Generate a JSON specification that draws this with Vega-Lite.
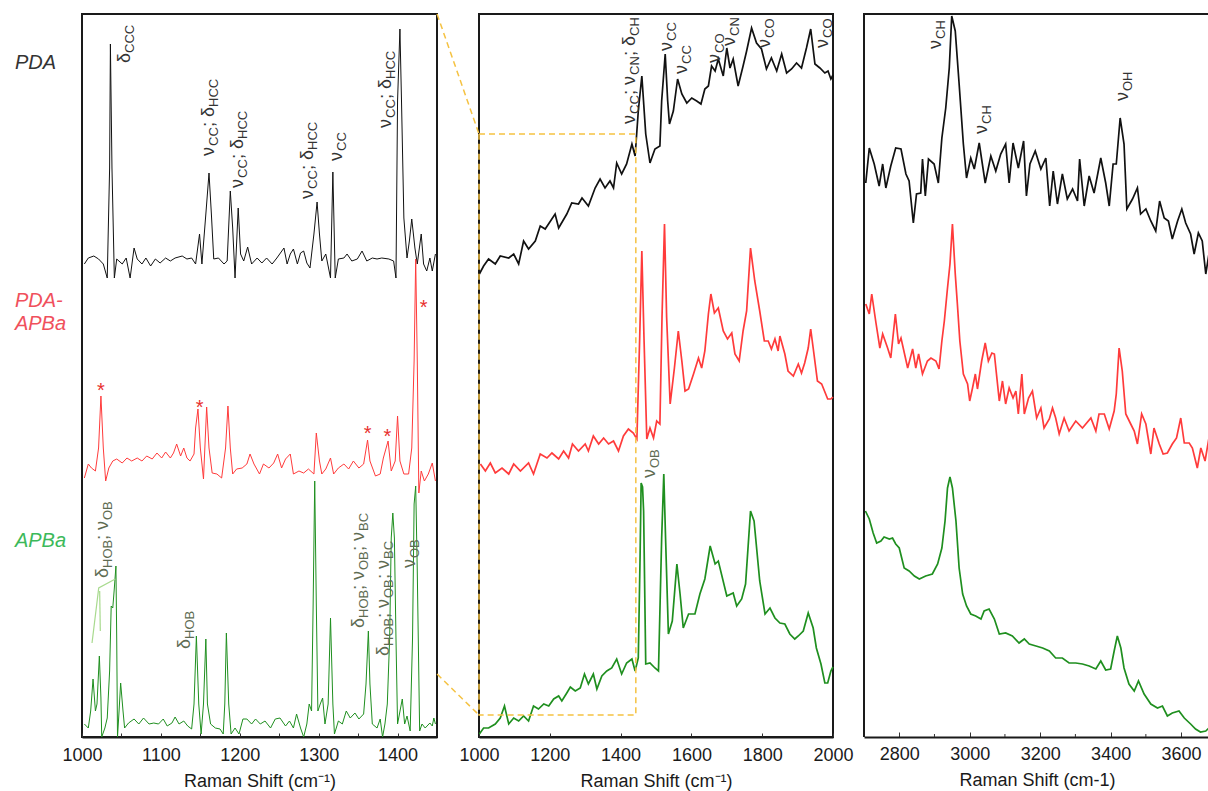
{
"$schema": "https://vega.github.io/schema/vega-lite/v6.json",
"padding": {"left": 13, "top": 10, "right": 0, "bottom": 0},
"autosize": {"type": "pad"},
"bounds": "flush",
"spacing": 42,
"config": {
  "view": {"stroke": "#1a1a1a", "strokeWidth": 2},
  "font": "Liberation Sans",
  "text": {"font": "Liberation Sans"},
  "axis": {"labelFont": "Liberation Sans", "labelFontSize": 18, "labelColor": "#1a1a1a", "titleFont": "Liberation Sans", "titleFontSize": 18, "titleFontWeight": "normal", "titleColor": "#1a1a1a", "grid": false, "domainColor": "#1a1a1a", "domainWidth": 2, "tickColor": "#333333", "tickWidth": 1, "tickSize": -4, "labelPadding": 13, "titlePadding": 8, "labelAngle": 0, "labelOverlap": false, "labelFlush": false}
},
"datasets": {
"left": [
{"s":"PDA","x":1003,"i":473},{"s":"PDA","x":1008,"i":479},{"s":"PDA","x":1015,"i":481},{"s":"PDA","x":1021,"i":478},{"s":"PDA","x":1027,"i":473},{"s":"PDA","x":1032,"i":459},{"s":"PDA","x":1035,"i":569},{"s":"PDA","x":1036,"i":693},{"s":"PDA","x":1038,"i":569},{"s":"PDA","x":1041,"i":459},{"s":"PDA","x":1044,"i":478},{"s":"PDA","x":1051,"i":473},{"s":"PDA","x":1056,"i":479},{"s":"PDA","x":1061,"i":459},{"s":"PDA","x":1066,"i":489},{"s":"PDA","x":1070,"i":478},{"s":"PDA","x":1076,"i":473},{"s":"PDA","x":1081,"i":479},{"s":"PDA","x":1087,"i":471},{"s":"PDA","x":1093,"i":478},{"s":"PDA","x":1099,"i":474},{"s":"PDA","x":1106,"i":479},{"s":"PDA","x":1112,"i":476},{"s":"PDA","x":1118,"i":479},{"s":"PDA","x":1127,"i":481},{"s":"PDA","x":1133,"i":478},{"s":"PDA","x":1139,"i":479},{"s":"PDA","x":1144,"i":473},{"s":"PDA","x":1149,"i":503},{"s":"PDA","x":1152,"i":473},{"s":"PDA","x":1157,"i":523},{"s":"PDA","x":1161,"i":564},{"s":"PDA","x":1164,"i":523},{"s":"PDA","x":1167,"i":478},{"s":"PDA","x":1173,"i":479},{"s":"PDA","x":1180,"i":473},{"s":"PDA","x":1184,"i":476},{"s":"PDA","x":1188,"i":546},{"s":"PDA","x":1191,"i":509},{"s":"PDA","x":1194,"i":459},{"s":"PDA","x":1198,"i":529},{"s":"PDA","x":1201,"i":483},{"s":"PDA","x":1205,"i":476},{"s":"PDA","x":1210,"i":490},{"s":"PDA","x":1215,"i":473},{"s":"PDA","x":1222,"i":479},{"s":"PDA","x":1228,"i":474},{"s":"PDA","x":1234,"i":479},{"s":"PDA","x":1241,"i":473},{"s":"PDA","x":1247,"i":479},{"s":"PDA","x":1256,"i":489},{"s":"PDA","x":1260,"i":473},{"s":"PDA","x":1264,"i":483},{"s":"PDA","x":1268,"i":488},{"s":"PDA","x":1273,"i":473},{"s":"PDA","x":1277,"i":484},{"s":"PDA","x":1281,"i":486},{"s":"PDA","x":1285,"i":474},{"s":"PDA","x":1289,"i":469},{"s":"PDA","x":1294,"i":503},{"s":"PDA","x":1298,"i":535},{"s":"PDA","x":1301,"i":503},{"s":"PDA","x":1304,"i":476},{"s":"PDA","x":1309,"i":483},{"s":"PDA","x":1315,"i":459},{"s":"PDA","x":1318,"i":565},{"s":"PDA","x":1321,"i":459},{"s":"PDA","x":1325,"i":478},{"s":"PDA","x":1332,"i":479},{"s":"PDA","x":1336,"i":483},{"s":"PDA","x":1342,"i":476},{"s":"PDA","x":1349,"i":478},{"s":"PDA","x":1355,"i":486},{"s":"PDA","x":1361,"i":476},{"s":"PDA","x":1368,"i":479},{"s":"PDA","x":1374,"i":478},{"s":"PDA","x":1380,"i":479},{"s":"PDA","x":1389,"i":478},{"s":"PDA","x":1395,"i":476},{"s":"PDA","x":1398,"i":459},{"s":"PDA","x":1400,"i":636},{"s":"PDA","x":1403,"i":708},{"s":"PDA","x":1405,"i":636},{"s":"PDA","x":1408,"i":519},{"s":"PDA","x":1412,"i":479},{"s":"PDA","x":1415,"i":496},{"s":"PDA","x":1418,"i":518},{"s":"PDA","x":1422,"i":489},{"s":"PDA","x":1425,"i":473},{"s":"PDA","x":1430,"i":503},{"s":"PDA","x":1433,"i":473},{"s":"PDA","x":1437,"i":466},{"s":"PDA","x":1441,"i":479},{"s":"PDA","x":1444,"i":466},{"s":"PDA","x":1448,"i":483},
{"s":"PDA-APBa","x":1003,"i":259},{"s":"PDA-APBa","x":1008,"i":273},{"s":"PDA-APBa","x":1012,"i":269},{"s":"PDA-APBa","x":1017,"i":266},{"s":"PDA-APBa","x":1021,"i":289},{"s":"PDA-APBa","x":1024,"i":341},{"s":"PDA-APBa","x":1027,"i":289},{"s":"PDA-APBa","x":1030,"i":256},{"s":"PDA-APBa","x":1034,"i":269},{"s":"PDA-APBa","x":1039,"i":276},{"s":"PDA-APBa","x":1044,"i":278},{"s":"PDA-APBa","x":1051,"i":274},{"s":"PDA-APBa","x":1057,"i":279},{"s":"PDA-APBa","x":1063,"i":276},{"s":"PDA-APBa","x":1070,"i":279},{"s":"PDA-APBa","x":1076,"i":276},{"s":"PDA-APBa","x":1082,"i":281},{"s":"PDA-APBa","x":1089,"i":278},{"s":"PDA-APBa","x":1095,"i":284},{"s":"PDA-APBa","x":1101,"i":279},{"s":"PDA-APBa","x":1106,"i":285},{"s":"PDA-APBa","x":1112,"i":279},{"s":"PDA-APBa","x":1116,"i":284},{"s":"PDA-APBa","x":1120,"i":293},{"s":"PDA-APBa","x":1125,"i":281},{"s":"PDA-APBa","x":1129,"i":289},{"s":"PDA-APBa","x":1133,"i":279},{"s":"PDA-APBa","x":1137,"i":276},{"s":"PDA-APBa","x":1142,"i":283},{"s":"PDA-APBa","x":1144,"i":309},{"s":"PDA-APBa","x":1147,"i":328},{"s":"PDA-APBa","x":1150,"i":289},{"s":"PDA-APBa","x":1154,"i":258},{"s":"PDA-APBa","x":1158,"i":330},{"s":"PDA-APBa","x":1161,"i":289},{"s":"PDA-APBa","x":1165,"i":264},{"s":"PDA-APBa","x":1171,"i":263},{"s":"PDA-APBa","x":1177,"i":259},{"s":"PDA-APBa","x":1182,"i":289},{"s":"PDA-APBa","x":1185,"i":331},{"s":"PDA-APBa","x":1188,"i":289},{"s":"PDA-APBa","x":1191,"i":263},{"s":"PDA-APBa","x":1196,"i":268},{"s":"PDA-APBa","x":1203,"i":269},{"s":"PDA-APBa","x":1209,"i":273},{"s":"PDA-APBa","x":1213,"i":283},{"s":"PDA-APBa","x":1218,"i":273},{"s":"PDA-APBa","x":1225,"i":263},{"s":"PDA-APBa","x":1230,"i":273},{"s":"PDA-APBa","x":1237,"i":269},{"s":"PDA-APBa","x":1243,"i":274},{"s":"PDA-APBa","x":1248,"i":283},{"s":"PDA-APBa","x":1253,"i":269},{"s":"PDA-APBa","x":1258,"i":278},{"s":"PDA-APBa","x":1264,"i":283},{"s":"PDA-APBa","x":1268,"i":263},{"s":"PDA-APBa","x":1275,"i":266},{"s":"PDA-APBa","x":1281,"i":264},{"s":"PDA-APBa","x":1287,"i":268},{"s":"PDA-APBa","x":1294,"i":263},{"s":"PDA-APBa","x":1297,"i":304},{"s":"PDA-APBa","x":1301,"i":276},{"s":"PDA-APBa","x":1304,"i":263},{"s":"PDA-APBa","x":1309,"i":268},{"s":"PDA-APBa","x":1315,"i":279},{"s":"PDA-APBa","x":1319,"i":263},{"s":"PDA-APBa","x":1325,"i":269},{"s":"PDA-APBa","x":1332,"i":273},{"s":"PDA-APBa","x":1338,"i":268},{"s":"PDA-APBa","x":1344,"i":276},{"s":"PDA-APBa","x":1351,"i":269},{"s":"PDA-APBa","x":1357,"i":273},{"s":"PDA-APBa","x":1362,"i":297},{"s":"PDA-APBa","x":1365,"i":276},{"s":"PDA-APBa","x":1372,"i":261},{"s":"PDA-APBa","x":1378,"i":263},{"s":"PDA-APBa","x":1382,"i":279},{"s":"PDA-APBa","x":1388,"i":296},{"s":"PDA-APBa","x":1392,"i":266},{"s":"PDA-APBa","x":1397,"i":276},{"s":"PDA-APBa","x":1400,"i":321},{"s":"PDA-APBa","x":1403,"i":276},{"s":"PDA-APBa","x":1408,"i":263},{"s":"PDA-APBa","x":1414,"i":263},{"s":"PDA-APBa","x":1418,"i":289},{"s":"PDA-APBa","x":1421,"i":376},{"s":"PDA-APBa","x":1423,"i":478},{"s":"PDA-APBa","x":1425,"i":376},{"s":"PDA-APBa","x":1427,"i":244},{"s":"PDA-APBa","x":1430,"i":266},{"s":"PDA-APBa","x":1434,"i":256},{"s":"PDA-APBa","x":1439,"i":263},{"s":"PDA-APBa","x":1444,"i":274},{"s":"PDA-APBa","x":1448,"i":256},
{"s":"APBa","x":1003,"i":13},{"s":"APBa","x":1008,"i":9},{"s":"APBa","x":1011,"i":26},{"s":"APBa","x":1014,"i":58},{"s":"APBa","x":1017,"i":26},{"s":"APBa","x":1019,"i":33},{"s":"APBa","x":1022,"i":81},{"s":"APBa","x":1024,"i":39},{"s":"APBa","x":1025,"i":0},{"s":"APBa","x":1029,"i":9},{"s":"APBa","x":1032,"i":19},{"s":"APBa","x":1035,"i":66},{"s":"APBa","x":1037,"i":131},{"s":"APBa","x":1039,"i":129},{"s":"APBa","x":1041,"i":149},{"s":"APBa","x":1043,"i":171},{"s":"APBa","x":1044,"i":99},{"s":"APBa","x":1045,"i":0},{"s":"APBa","x":1047,"i":26},{"s":"APBa","x":1049,"i":54},{"s":"APBa","x":1052,"i":26},{"s":"APBa","x":1054,"i":9},{"s":"APBa","x":1059,"i":14},{"s":"APBa","x":1066,"i":18},{"s":"APBa","x":1072,"i":13},{"s":"APBa","x":1078,"i":19},{"s":"APBa","x":1085,"i":13},{"s":"APBa","x":1091,"i":14},{"s":"APBa","x":1097,"i":13},{"s":"APBa","x":1103,"i":18},{"s":"APBa","x":1108,"i":11},{"s":"APBa","x":1114,"i":14},{"s":"APBa","x":1118,"i":20},{"s":"APBa","x":1123,"i":13},{"s":"APBa","x":1129,"i":16},{"s":"APBa","x":1134,"i":11},{"s":"APBa","x":1139,"i":8},{"s":"APBa","x":1142,"i":33},{"s":"APBa","x":1145,"i":101},{"s":"APBa","x":1148,"i":33},{"s":"APBa","x":1151,"i":3},{"s":"APBa","x":1154,"i":33},{"s":"APBa","x":1157,"i":98},{"s":"APBa","x":1159,"i":33},{"s":"APBa","x":1163,"i":13},{"s":"APBa","x":1169,"i":9},{"s":"APBa","x":1175,"i":8},{"s":"APBa","x":1179,"i":3},{"s":"APBa","x":1181,"i":33},{"s":"APBa","x":1183,"i":104},{"s":"APBa","x":1186,"i":33},{"s":"APBa","x":1189,"i":3},{"s":"APBa","x":1194,"i":9},{"s":"APBa","x":1199,"i":3},{"s":"APBa","x":1204,"i":18},{"s":"APBa","x":1209,"i":18},{"s":"APBa","x":1215,"i":13},{"s":"APBa","x":1220,"i":18},{"s":"APBa","x":1226,"i":13},{"s":"APBa","x":1232,"i":16},{"s":"APBa","x":1239,"i":9},{"s":"APBa","x":1245,"i":18},{"s":"APBa","x":1251,"i":19},{"s":"APBa","x":1258,"i":11},{"s":"APBa","x":1263,"i":16},{"s":"APBa","x":1268,"i":9},{"s":"APBa","x":1272,"i":23},{"s":"APBa","x":1277,"i":9},{"s":"APBa","x":1281,"i":0},{"s":"APBa","x":1285,"i":13},{"s":"APBa","x":1288,"i":33},{"s":"APBa","x":1291,"i":26},{"s":"APBa","x":1293,"i":133},{"s":"APBa","x":1295,"i":256},{"s":"APBa","x":1297,"i":133},{"s":"APBa","x":1299,"i":26},{"s":"APBa","x":1302,"i":33},{"s":"APBa","x":1305,"i":39},{"s":"APBa","x":1308,"i":13},{"s":"APBa","x":1312,"i":33},{"s":"APBa","x":1315,"i":119},{"s":"APBa","x":1318,"i":33},{"s":"APBa","x":1320,"i":3},{"s":"APBa","x":1325,"i":16},{"s":"APBa","x":1330,"i":13},{"s":"APBa","x":1335,"i":26},{"s":"APBa","x":1340,"i":19},{"s":"APBa","x":1346,"i":24},{"s":"APBa","x":1351,"i":18},{"s":"APBa","x":1357,"i":23},{"s":"APBa","x":1360,"i":53},{"s":"APBa","x":1363,"i":106},{"s":"APBa","x":1365,"i":53},{"s":"APBa","x":1368,"i":13},{"s":"APBa","x":1374,"i":9},{"s":"APBa","x":1378,"i":18},{"s":"APBa","x":1381,"i":0},{"s":"APBa","x":1384,"i":13},{"s":"APBa","x":1387,"i":33},{"s":"APBa","x":1390,"i":99},{"s":"APBa","x":1392,"i":199},{"s":"APBa","x":1394,"i":224},{"s":"APBa","x":1396,"i":199},{"s":"APBa","x":1398,"i":99},{"s":"APBa","x":1400,"i":13},{"s":"APBa","x":1406,"i":38},{"s":"APBa","x":1409,"i":13},{"s":"APBa","x":1412,"i":21},{"s":"APBa","x":1416,"i":6},{"s":"APBa","x":1419,"i":99},{"s":"APBa","x":1421,"i":233},{"s":"APBa","x":1423,"i":251},{"s":"APBa","x":1425,"i":166},{"s":"APBa","x":1428,"i":6},{"s":"APBa","x":1431,"i":13},{"s":"APBa","x":1435,"i":9},{"s":"APBa","x":1441,"i":14},{"s":"APBa","x":1444,"i":11},{"s":"APBa","x":1446,"i":19},{"s":"APBa","x":1448,"i":13}
],
"mid": [
{"s":"PDA","x":1001,"i":463},{"s":"PDA","x":1013,"i":471},{"s":"PDA","x":1027,"i":478},{"s":"PDA","x":1046,"i":473},{"s":"PDA","x":1060,"i":481},{"s":"PDA","x":1084,"i":479},{"s":"PDA","x":1098,"i":483},{"s":"PDA","x":1112,"i":473},{"s":"PDA","x":1126,"i":496},{"s":"PDA","x":1140,"i":488},{"s":"PDA","x":1159,"i":496},{"s":"PDA","x":1173,"i":511},{"s":"PDA","x":1187,"i":508},{"s":"PDA","x":1215,"i":523},{"s":"PDA","x":1225,"i":509},{"s":"PDA","x":1248,"i":523},{"s":"PDA","x":1262,"i":534},{"s":"PDA","x":1281,"i":533},{"s":"PDA","x":1291,"i":539},{"s":"PDA","x":1309,"i":531},{"s":"PDA","x":1328,"i":549},{"s":"PDA","x":1342,"i":558},{"s":"PDA","x":1356,"i":549},{"s":"PDA","x":1370,"i":556},{"s":"PDA","x":1380,"i":549},{"s":"PDA","x":1389,"i":574},{"s":"PDA","x":1403,"i":563},{"s":"PDA","x":1417,"i":573},{"s":"PDA","x":1432,"i":593},{"s":"PDA","x":1441,"i":581},{"s":"PDA","x":1450,"i":626},{"s":"PDA","x":1460,"i":661},{"s":"PDA","x":1471,"i":603},{"s":"PDA","x":1483,"i":574},{"s":"PDA","x":1497,"i":588},{"s":"PDA","x":1511,"i":591},{"s":"PDA","x":1516,"i":636},{"s":"PDA","x":1526,"i":683},{"s":"PDA","x":1533,"i":636},{"s":"PDA","x":1538,"i":613},{"s":"PDA","x":1549,"i":626},{"s":"PDA","x":1561,"i":658},{"s":"PDA","x":1573,"i":643},{"s":"PDA","x":1587,"i":634},{"s":"PDA","x":1601,"i":639},{"s":"PDA","x":1615,"i":636},{"s":"PDA","x":1627,"i":633},{"s":"PDA","x":1638,"i":648},{"s":"PDA","x":1648,"i":651},{"s":"PDA","x":1657,"i":671},{"s":"PDA","x":1667,"i":666},{"s":"PDA","x":1676,"i":678},{"s":"PDA","x":1690,"i":661},{"s":"PDA","x":1700,"i":689},{"s":"PDA","x":1709,"i":669},{"s":"PDA","x":1718,"i":678},{"s":"PDA","x":1732,"i":651},{"s":"PDA","x":1746,"i":671},{"s":"PDA","x":1756,"i":686},{"s":"PDA","x":1770,"i":709},{"s":"PDA","x":1784,"i":694},{"s":"PDA","x":1798,"i":688},{"s":"PDA","x":1812,"i":668},{"s":"PDA","x":1826,"i":679},{"s":"PDA","x":1841,"i":666},{"s":"PDA","x":1855,"i":683},{"s":"PDA","x":1869,"i":664},{"s":"PDA","x":1883,"i":668},{"s":"PDA","x":1897,"i":674},{"s":"PDA","x":1911,"i":669},{"s":"PDA","x":1925,"i":689},{"s":"PDA","x":1937,"i":708},{"s":"PDA","x":1949,"i":673},{"s":"PDA","x":1963,"i":669},{"s":"PDA","x":1977,"i":664},{"s":"PDA","x":1986,"i":666},{"s":"PDA","x":1994,"i":658},{"s":"PDA","x":2000,"i":662},
{"s":"PDA-APBa","x":1004,"i":273},{"s":"PDA-APBa","x":1018,"i":266},{"s":"PDA-APBa","x":1032,"i":274},{"s":"PDA-APBa","x":1046,"i":264},{"s":"PDA-APBa","x":1065,"i":269},{"s":"PDA-APBa","x":1084,"i":263},{"s":"PDA-APBa","x":1098,"i":273},{"s":"PDA-APBa","x":1117,"i":266},{"s":"PDA-APBa","x":1140,"i":274},{"s":"PDA-APBa","x":1154,"i":263},{"s":"PDA-APBa","x":1173,"i":283},{"s":"PDA-APBa","x":1192,"i":279},{"s":"PDA-APBa","x":1206,"i":284},{"s":"PDA-APBa","x":1225,"i":278},{"s":"PDA-APBa","x":1239,"i":286},{"s":"PDA-APBa","x":1253,"i":279},{"s":"PDA-APBa","x":1264,"i":293},{"s":"PDA-APBa","x":1281,"i":286},{"s":"PDA-APBa","x":1300,"i":293},{"s":"PDA-APBa","x":1309,"i":286},{"s":"PDA-APBa","x":1323,"i":301},{"s":"PDA-APBa","x":1338,"i":293},{"s":"PDA-APBa","x":1352,"i":299},{"s":"PDA-APBa","x":1366,"i":293},{"s":"PDA-APBa","x":1380,"i":296},{"s":"PDA-APBa","x":1394,"i":286},{"s":"PDA-APBa","x":1408,"i":301},{"s":"PDA-APBa","x":1422,"i":308},{"s":"PDA-APBa","x":1436,"i":304},{"s":"PDA-APBa","x":1446,"i":298},{"s":"PDA-APBa","x":1454,"i":400},{"s":"PDA-APBa","x":1460,"i":486},{"s":"PDA-APBa","x":1466,"i":400},{"s":"PDA-APBa","x":1474,"i":298},{"s":"PDA-APBa","x":1483,"i":309},{"s":"PDA-APBa","x":1493,"i":299},{"s":"PDA-APBa","x":1502,"i":316},{"s":"PDA-APBa","x":1511,"i":313},{"s":"PDA-APBa","x":1517,"i":420},{"s":"PDA-APBa","x":1524,"i":513},{"s":"PDA-APBa","x":1530,"i":420},{"s":"PDA-APBa","x":1540,"i":333},{"s":"PDA-APBa","x":1552,"i":369},{"s":"PDA-APBa","x":1563,"i":406},{"s":"PDA-APBa","x":1573,"i":376},{"s":"PDA-APBa","x":1582,"i":346},{"s":"PDA-APBa","x":1592,"i":348},{"s":"PDA-APBa","x":1606,"i":363},{"s":"PDA-APBa","x":1620,"i":379},{"s":"PDA-APBa","x":1629,"i":369},{"s":"PDA-APBa","x":1638,"i":386},{"s":"PDA-APBa","x":1648,"i":423},{"s":"PDA-APBa","x":1655,"i":443},{"s":"PDA-APBa","x":1665,"i":424},{"s":"PDA-APBa","x":1676,"i":429},{"s":"PDA-APBa","x":1690,"i":406},{"s":"PDA-APBa","x":1702,"i":398},{"s":"PDA-APBa","x":1714,"i":404},{"s":"PDA-APBa","x":1723,"i":383},{"s":"PDA-APBa","x":1735,"i":376},{"s":"PDA-APBa","x":1746,"i":406},{"s":"PDA-APBa","x":1756,"i":426},{"s":"PDA-APBa","x":1767,"i":489},{"s":"PDA-APBa","x":1779,"i":456},{"s":"PDA-APBa","x":1793,"i":426},{"s":"PDA-APBa","x":1806,"i":396},{"s":"PDA-APBa","x":1817,"i":396},{"s":"PDA-APBa","x":1826,"i":388},{"s":"PDA-APBa","x":1836,"i":398},{"s":"PDA-APBa","x":1845,"i":386},{"s":"PDA-APBa","x":1850,"i":401},{"s":"PDA-APBa","x":1864,"i":383},{"s":"PDA-APBa","x":1873,"i":366},{"s":"PDA-APBa","x":1888,"i":361},{"s":"PDA-APBa","x":1902,"i":373},{"s":"PDA-APBa","x":1911,"i":364},{"s":"PDA-APBa","x":1920,"i":374},{"s":"PDA-APBa","x":1930,"i":389},{"s":"PDA-APBa","x":1937,"i":408},{"s":"PDA-APBa","x":1944,"i":389},{"s":"PDA-APBa","x":1956,"i":356},{"s":"PDA-APBa","x":1968,"i":353},{"s":"PDA-APBa","x":1985,"i":338},{"s":"PDA-APBa","x":1994,"i":338},{"s":"PDA-APBa","x":2000,"i":340},
{"s":"APBa","x":1001,"i":3},{"s":"APBa","x":1013,"i":9},{"s":"APBa","x":1027,"i":9},{"s":"APBa","x":1046,"i":13},{"s":"APBa","x":1060,"i":19},{"s":"APBa","x":1072,"i":31},{"s":"APBa","x":1084,"i":13},{"s":"APBa","x":1098,"i":19},{"s":"APBa","x":1112,"i":16},{"s":"APBa","x":1126,"i":21},{"s":"APBa","x":1140,"i":16},{"s":"APBa","x":1154,"i":31},{"s":"APBa","x":1168,"i":28},{"s":"APBa","x":1183,"i":33},{"s":"APBa","x":1197,"i":31},{"s":"APBa","x":1211,"i":38},{"s":"APBa","x":1225,"i":41},{"s":"APBa","x":1234,"i":36},{"s":"APBa","x":1248,"i":44},{"s":"APBa","x":1258,"i":50},{"s":"APBa","x":1272,"i":46},{"s":"APBa","x":1286,"i":49},{"s":"APBa","x":1298,"i":63},{"s":"APBa","x":1309,"i":53},{"s":"APBa","x":1323,"i":63},{"s":"APBa","x":1333,"i":48},{"s":"APBa","x":1347,"i":61},{"s":"APBa","x":1361,"i":66},{"s":"APBa","x":1375,"i":69},{"s":"APBa","x":1389,"i":78},{"s":"APBa","x":1403,"i":63},{"s":"APBa","x":1417,"i":74},{"s":"APBa","x":1432,"i":78},{"s":"APBa","x":1441,"i":66},{"s":"APBa","x":1450,"i":79},{"s":"APBa","x":1455,"i":180},{"s":"APBa","x":1458,"i":254},{"s":"APBa","x":1462,"i":250},{"s":"APBa","x":1465,"i":226},{"s":"APBa","x":1471,"i":73},{"s":"APBa","x":1483,"i":74},{"s":"APBa","x":1497,"i":69},{"s":"APBa","x":1507,"i":66},{"s":"APBa","x":1516,"i":199},{"s":"APBa","x":1522,"i":263},{"s":"APBa","x":1527,"i":199},{"s":"APBa","x":1535,"i":103},{"s":"APBa","x":1546,"i":116},{"s":"APBa","x":1559,"i":173},{"s":"APBa","x":1568,"i":143},{"s":"APBa","x":1577,"i":109},{"s":"APBa","x":1592,"i":123},{"s":"APBa","x":1610,"i":123},{"s":"APBa","x":1624,"i":143},{"s":"APBa","x":1638,"i":158},{"s":"APBa","x":1653,"i":191},{"s":"APBa","x":1667,"i":173},{"s":"APBa","x":1676,"i":176},{"s":"APBa","x":1700,"i":141},{"s":"APBa","x":1718,"i":144},{"s":"APBa","x":1728,"i":131},{"s":"APBa","x":1742,"i":138},{"s":"APBa","x":1753,"i":153},{"s":"APBa","x":1767,"i":226},{"s":"APBa","x":1777,"i":216},{"s":"APBa","x":1793,"i":156},{"s":"APBa","x":1808,"i":123},{"s":"APBa","x":1822,"i":129},{"s":"APBa","x":1836,"i":119},{"s":"APBa","x":1850,"i":114},{"s":"APBa","x":1864,"i":113},{"s":"APBa","x":1878,"i":103},{"s":"APBa","x":1892,"i":98},{"s":"APBa","x":1902,"i":101},{"s":"APBa","x":1916,"i":106},{"s":"APBa","x":1930,"i":124},{"s":"APBa","x":1944,"i":109},{"s":"APBa","x":1953,"i":89},{"s":"APBa","x":1966,"i":73},{"s":"APBa","x":1977,"i":54},{"s":"APBa","x":1985,"i":54},{"s":"APBa","x":1994,"i":66},{"s":"APBa","x":2000,"i":70}
],
"right": [
{"s":"PDA","x":2705,"i":554},{"s":"PDA","x":2715,"i":589},{"s":"PDA","x":2729,"i":573},{"s":"PDA","x":2743,"i":551},{"s":"PDA","x":2753,"i":573},{"s":"PDA","x":2762,"i":549},{"s":"PDA","x":2776,"i":571},{"s":"PDA","x":2790,"i":589},{"s":"PDA","x":2805,"i":588},{"s":"PDA","x":2819,"i":563},{"s":"PDA","x":2828,"i":556},{"s":"PDA","x":2840,"i":514},{"s":"PDA","x":2849,"i":543},{"s":"PDA","x":2861,"i":544},{"s":"PDA","x":2866,"i":578},{"s":"PDA","x":2874,"i":541},{"s":"PDA","x":2883,"i":578},{"s":"PDA","x":2899,"i":573},{"s":"PDA","x":2911,"i":554},{"s":"PDA","x":2921,"i":599},{"s":"PDA","x":2932,"i":629},{"s":"PDA","x":2942,"i":669},{"s":"PDA","x":2949,"i":721},{"s":"PDA","x":2959,"i":706},{"s":"PDA","x":2970,"i":653},{"s":"PDA","x":2982,"i":593},{"s":"PDA","x":2991,"i":559},{"s":"PDA","x":3003,"i":579},{"s":"PDA","x":3013,"i":568},{"s":"PDA","x":3027,"i":594},{"s":"PDA","x":3044,"i":554},{"s":"PDA","x":3060,"i":581},{"s":"PDA","x":3074,"i":566},{"s":"PDA","x":3088,"i":583},{"s":"PDA","x":3102,"i":593},{"s":"PDA","x":3112,"i":554},{"s":"PDA","x":3123,"i":594},{"s":"PDA","x":3138,"i":569},{"s":"PDA","x":3153,"i":596},{"s":"PDA","x":3161,"i":541},{"s":"PDA","x":3171,"i":573},{"s":"PDA","x":3186,"i":586},{"s":"PDA","x":3202,"i":568},{"s":"PDA","x":3216,"i":579},{"s":"PDA","x":3227,"i":531},{"s":"PDA","x":3237,"i":566},{"s":"PDA","x":3249,"i":533},{"s":"PDA","x":3263,"i":563},{"s":"PDA","x":3277,"i":538},{"s":"PDA","x":3292,"i":548},{"s":"PDA","x":3306,"i":536},{"s":"PDA","x":3312,"i":578},{"s":"PDA","x":3325,"i":531},{"s":"PDA","x":3339,"i":561},{"s":"PDA","x":3353,"i":544},{"s":"PDA","x":3372,"i":579},{"s":"PDA","x":3386,"i":554},{"s":"PDA","x":3396,"i":531},{"s":"PDA","x":3407,"i":573},{"s":"PDA","x":3416,"i":573},{"s":"PDA","x":3427,"i":619},{"s":"PDA","x":3438,"i":593},{"s":"PDA","x":3446,"i":528},{"s":"PDA","x":3462,"i":538},{"s":"PDA","x":3476,"i":549},{"s":"PDA","x":3485,"i":523},{"s":"PDA","x":3500,"i":528},{"s":"PDA","x":3514,"i":516},{"s":"PDA","x":3528,"i":506},{"s":"PDA","x":3539,"i":536},{"s":"PDA","x":3552,"i":519},{"s":"PDA","x":3564,"i":516},{"s":"PDA","x":3575,"i":498},{"s":"PDA","x":3590,"i":516},{"s":"PDA","x":3602,"i":528},{"s":"PDA","x":3613,"i":514},{"s":"PDA","x":3627,"i":503},{"s":"PDA","x":3637,"i":483},{"s":"PDA","x":3649,"i":504},{"s":"PDA","x":3660,"i":496},{"s":"PDA","x":3670,"i":463},{"s":"PDA","x":3679,"i":483},
{"s":"PDA-APBa","x":2705,"i":433},{"s":"PDA-APBa","x":2715,"i":423},{"s":"PDA-APBa","x":2722,"i":443},{"s":"PDA-APBa","x":2734,"i":414},{"s":"PDA-APBa","x":2745,"i":389},{"s":"PDA-APBa","x":2753,"i":403},{"s":"PDA-APBa","x":2767,"i":389},{"s":"PDA-APBa","x":2776,"i":379},{"s":"PDA-APBa","x":2789,"i":423},{"s":"PDA-APBa","x":2798,"i":393},{"s":"PDA-APBa","x":2805,"i":399},{"s":"PDA-APBa","x":2824,"i":369},{"s":"PDA-APBa","x":2838,"i":388},{"s":"PDA-APBa","x":2847,"i":369},{"s":"PDA-APBa","x":2855,"i":383},{"s":"PDA-APBa","x":2866,"i":363},{"s":"PDA-APBa","x":2880,"i":376},{"s":"PDA-APBa","x":2890,"i":379},{"s":"PDA-APBa","x":2904,"i":376},{"s":"PDA-APBa","x":2913,"i":368},{"s":"PDA-APBa","x":2921,"i":396},{"s":"PDA-APBa","x":2928,"i":416},{"s":"PDA-APBa","x":2937,"i":449},{"s":"PDA-APBa","x":2944,"i":473},{"s":"PDA-APBa","x":2951,"i":513},{"s":"PDA-APBa","x":2959,"i":463},{"s":"PDA-APBa","x":2965,"i":433},{"s":"PDA-APBa","x":2972,"i":396},{"s":"PDA-APBa","x":2982,"i":363},{"s":"PDA-APBa","x":2994,"i":353},{"s":"PDA-APBa","x":3000,"i":336},{"s":"PDA-APBa","x":3008,"i":349},{"s":"PDA-APBa","x":3016,"i":363},{"s":"PDA-APBa","x":3022,"i":348},{"s":"PDA-APBa","x":3034,"i":376},{"s":"PDA-APBa","x":3044,"i":394},{"s":"PDA-APBa","x":3053,"i":376},{"s":"PDA-APBa","x":3063,"i":384},{"s":"PDA-APBa","x":3070,"i":383},{"s":"PDA-APBa","x":3084,"i":336},{"s":"PDA-APBa","x":3093,"i":356},{"s":"PDA-APBa","x":3102,"i":333},{"s":"PDA-APBa","x":3112,"i":349},{"s":"PDA-APBa","x":3123,"i":339},{"s":"PDA-APBa","x":3131,"i":346},{"s":"PDA-APBa","x":3138,"i":323},{"s":"PDA-APBa","x":3148,"i":363},{"s":"PDA-APBa","x":3155,"i":323},{"s":"PDA-APBa","x":3167,"i":339},{"s":"PDA-APBa","x":3178,"i":346},{"s":"PDA-APBa","x":3190,"i":319},{"s":"PDA-APBa","x":3202,"i":329},{"s":"PDA-APBa","x":3211,"i":309},{"s":"PDA-APBa","x":3226,"i":318},{"s":"PDA-APBa","x":3235,"i":329},{"s":"PDA-APBa","x":3244,"i":319},{"s":"PDA-APBa","x":3254,"i":303},{"s":"PDA-APBa","x":3268,"i":319},{"s":"PDA-APBa","x":3282,"i":306},{"s":"PDA-APBa","x":3301,"i":316},{"s":"PDA-APBa","x":3320,"i":309},{"s":"PDA-APBa","x":3344,"i":319},{"s":"PDA-APBa","x":3358,"i":306},{"s":"PDA-APBa","x":3367,"i":323},{"s":"PDA-APBa","x":3382,"i":323},{"s":"PDA-APBa","x":3396,"i":308},{"s":"PDA-APBa","x":3410,"i":326},{"s":"PDA-APBa","x":3416,"i":343},{"s":"PDA-APBa","x":3424,"i":389},{"s":"PDA-APBa","x":3433,"i":366},{"s":"PDA-APBa","x":3443,"i":323},{"s":"PDA-APBa","x":3457,"i":313},{"s":"PDA-APBa","x":3467,"i":306},{"s":"PDA-APBa","x":3476,"i":293},{"s":"PDA-APBa","x":3488,"i":323},{"s":"PDA-APBa","x":3500,"i":313},{"s":"PDA-APBa","x":3514,"i":283},{"s":"PDA-APBa","x":3523,"i":309},{"s":"PDA-APBa","x":3538,"i":293},{"s":"PDA-APBa","x":3549,"i":283},{"s":"PDA-APBa","x":3561,"i":284},{"s":"PDA-APBa","x":3575,"i":293},{"s":"PDA-APBa","x":3587,"i":299},{"s":"PDA-APBa","x":3599,"i":319},{"s":"PDA-APBa","x":3609,"i":294},{"s":"PDA-APBa","x":3623,"i":294},{"s":"PDA-APBa","x":3632,"i":289},{"s":"PDA-APBa","x":3646,"i":269},{"s":"PDA-APBa","x":3656,"i":289},{"s":"PDA-APBa","x":3668,"i":276},{"s":"PDA-APBa","x":3679,"i":299},
{"s":"APBa","x":2704,"i":226},{"s":"APBa","x":2715,"i":218},{"s":"APBa","x":2726,"i":204},{"s":"APBa","x":2736,"i":194},{"s":"APBa","x":2748,"i":196},{"s":"APBa","x":2757,"i":200},{"s":"APBa","x":2772,"i":198},{"s":"APBa","x":2781,"i":199},{"s":"APBa","x":2790,"i":193},{"s":"APBa","x":2800,"i":189},{"s":"APBa","x":2814,"i":169},{"s":"APBa","x":2828,"i":166},{"s":"APBa","x":2843,"i":161},{"s":"APBa","x":2857,"i":158},{"s":"APBa","x":2875,"i":161},{"s":"APBa","x":2894,"i":163},{"s":"APBa","x":2909,"i":173},{"s":"APBa","x":2921,"i":189},{"s":"APBa","x":2930,"i":216},{"s":"APBa","x":2937,"i":249},{"s":"APBa","x":2944,"i":260},{"s":"APBa","x":2951,"i":249},{"s":"APBa","x":2961,"i":216},{"s":"APBa","x":2970,"i":169},{"s":"APBa","x":2980,"i":143},{"s":"APBa","x":2991,"i":131},{"s":"APBa","x":3003,"i":123},{"s":"APBa","x":3017,"i":121},{"s":"APBa","x":3032,"i":118},{"s":"APBa","x":3041,"i":126},{"s":"APBa","x":3055,"i":128},{"s":"APBa","x":3070,"i":118},{"s":"APBa","x":3084,"i":103},{"s":"APBa","x":3102,"i":104},{"s":"APBa","x":3121,"i":101},{"s":"APBa","x":3140,"i":94},{"s":"APBa","x":3155,"i":98},{"s":"APBa","x":3169,"i":93},{"s":"APBa","x":3188,"i":91},{"s":"APBa","x":3207,"i":89},{"s":"APBa","x":3226,"i":86},{"s":"APBa","x":3244,"i":79},{"s":"APBa","x":3263,"i":79},{"s":"APBa","x":3282,"i":74},{"s":"APBa","x":3301,"i":74},{"s":"APBa","x":3320,"i":73},{"s":"APBa","x":3339,"i":71},{"s":"APBa","x":3358,"i":68},{"s":"APBa","x":3372,"i":76},{"s":"APBa","x":3386,"i":67},{"s":"APBa","x":3400,"i":68},{"s":"APBa","x":3410,"i":86},{"s":"APBa","x":3419,"i":101},{"s":"APBa","x":3429,"i":89},{"s":"APBa","x":3438,"i":69},{"s":"APBa","x":3452,"i":53},{"s":"APBa","x":3467,"i":46},{"s":"APBa","x":3479,"i":56},{"s":"APBa","x":3495,"i":43},{"s":"APBa","x":3514,"i":33},{"s":"APBa","x":3533,"i":29},{"s":"APBa","x":3547,"i":31},{"s":"APBa","x":3561,"i":21},{"s":"APBa","x":3575,"i":24},{"s":"APBa","x":3594,"i":26},{"s":"APBa","x":3609,"i":19},{"s":"APBa","x":3627,"i":13},{"s":"APBa","x":3641,"i":8},{"s":"APBa","x":3655,"i":5},{"s":"APBa","x":3670,"i":6},{"s":"APBa","x":3679,"i":9}
],
"ann": [
{"p":"L","g":"ann","k":"m","x":1061,"y":674,"t":"δ"},{"p":"L","g":"ann","k":"s","x":1061,"y":684,"t":"CCC"},
{"p":"L","g":"ann","k":"m","x":1167,"y":581,"t":"ν"},{"p":"L","g":"ann","k":"s","x":1167,"y":591,"t":"CC"},{"p":"L","g":"ann","k":"m","x":1167,"y":610,"t":"; δ"},{"p":"L","g":"ann","k":"s","x":1167,"y":630,"t":"HCC"},
{"p":"L","g":"ann","k":"m","x":1204,"y":549,"t":"ν"},{"p":"L","g":"ann","k":"s","x":1204,"y":559,"t":"CC"},{"p":"L","g":"ann","k":"m","x":1204,"y":578,"t":"; δ"},{"p":"L","g":"ann","k":"s","x":1204,"y":598,"t":"HCC"},
{"p":"L","g":"ann","k":"m","x":1293,"y":538,"t":"ν"},{"p":"L","g":"ann","k":"s","x":1293,"y":548,"t":"CC"},{"p":"L","g":"ann","k":"m","x":1293,"y":567,"t":"; δ"},{"p":"L","g":"ann","k":"s","x":1293,"y":587,"t":"HCC"},
{"p":"L","g":"ann","k":"m","x":1329,"y":576,"t":"ν"},{"p":"L","g":"ann","k":"s","x":1329,"y":586,"t":"CC"},
{"p":"L","g":"ann","k":"m","x":1392,"y":609,"t":"ν"},{"p":"L","g":"ann","k":"s","x":1392,"y":619,"t":"CC"},{"p":"L","g":"ann","k":"m","x":1392,"y":638,"t":"; δ"},{"p":"L","g":"ann","k":"s","x":1392,"y":658,"t":"HCC"},
{"p":"L","g":"annG","k":"m","x":1033,"y":159,"t":"δ"},{"p":"L","g":"annG","k":"s","x":1033,"y":169,"t":"HOB"},{"p":"L","g":"annG","k":"m","x":1033,"y":197,"t":"; ν"},{"p":"L","g":"annG","k":"s","x":1033,"y":217,"t":"OB"},
{"p":"L","g":"annG","k":"m","x":1137,"y":88,"t":"δ"},{"p":"L","g":"annG","k":"s","x":1137,"y":98,"t":"HOB"},
{"p":"L","g":"annG","k":"m","x":1357,"y":109,"t":"δ"},{"p":"L","g":"annG","k":"s","x":1357,"y":119,"t":"HOB"},{"p":"L","g":"annG","k":"m","x":1357,"y":147,"t":"; ν"},{"p":"L","g":"annG","k":"s","x":1357,"y":167,"t":"OB"},{"p":"L","g":"annG","k":"m","x":1357,"y":186,"t":"; ν"},{"p":"L","g":"annG","k":"s","x":1357,"y":206,"t":"BC"},
{"p":"L","g":"annG","k":"m","x":1389,"y":81,"t":"δ"},{"p":"L","g":"annG","k":"s","x":1389,"y":91,"t":"HOB"},{"p":"L","g":"annG","k":"m","x":1389,"y":119,"t":"; ν"},{"p":"L","g":"annG","k":"s","x":1389,"y":139,"t":"OB"},{"p":"L","g":"annG","k":"m","x":1389,"y":158,"t":"; ν"},{"p":"L","g":"annG","k":"s","x":1389,"y":178,"t":"BC"},
{"p":"L","g":"annG","k":"m","x":1422,"y":169,"t":"ν"},{"p":"L","g":"annG","k":"s","x":1422,"y":179,"t":"OB"},
{"p":"M","g":"ann","k":"m","x":1440,"y":613,"t":"ν"},{"p":"M","g":"ann","k":"s","x":1440,"y":623,"t":"CC"},{"p":"M","g":"ann","k":"m","x":1440,"y":642,"t":"; ν"},{"p":"M","g":"ann","k":"s","x":1440,"y":662,"t":"CN"},{"p":"M","g":"ann","k":"m","x":1440,"y":681,"t":"; δ"},{"p":"M","g":"ann","k":"s","x":1440,"y":701,"t":"CH"},
{"p":"M","g":"ann","k":"m","x":1544,"y":686,"t":"ν"},{"p":"M","g":"ann","k":"s","x":1544,"y":696,"t":"CC"},
{"p":"M","g":"ann","k":"m","x":1587,"y":663,"t":"ν"},{"p":"M","g":"ann","k":"s","x":1587,"y":673,"t":"CC"},
{"p":"M","g":"ann","k":"m","x":1681,"y":674,"t":"ν"},{"p":"M","g":"ann","k":"s","x":1681,"y":684,"t":"CO"},
{"p":"M","g":"ann","k":"m","x":1723,"y":691,"t":"ν"},{"p":"M","g":"ann","k":"s","x":1723,"y":701,"t":"CN"},
{"p":"M","g":"ann","k":"m","x":1822,"y":689,"t":"ν"},{"p":"M","g":"ann","k":"s","x":1822,"y":699,"t":"CO"},
{"p":"M","g":"ann","k":"m","x":1986,"y":689,"t":"ν"},{"p":"M","g":"ann","k":"s","x":1986,"y":699,"t":"CO"},
{"p":"M","g":"annG","k":"m","x":1497,"y":259,"t":"ν"},{"p":"M","g":"annG","k":"s","x":1497,"y":269,"t":"OB"},
{"p":"R","g":"ann","k":"m","x":2918,"y":688,"t":"ν"},{"p":"R","g":"ann","k":"s","x":2918,"y":698,"t":"CH"},
{"p":"R","g":"ann","k":"m","x":3049,"y":603,"t":"ν"},{"p":"R","g":"ann","k":"s","x":3049,"y":613,"t":"CH"},
{"p":"R","g":"ann","k":"m","x":3450,"y":636,"t":"ν"},{"p":"R","g":"ann","k":"s","x":3450,"y":646,"t":"OH"}
],
"stars": [
{"x":1024,"i":351},{"x":1149,"i":334},{"x":1362,"i":308},{"x":1387,"i":305},{"x":1433,"i":434}
],
"names": [
{"t":"PDA","g":"PDA","x":915,"i":674},{"t":"PDA-","g":"PDA-APBa","x":915,"i":436},{"t":"APBa","g":"PDA-APBa","x":915,"i":413},{"t":"APBa","g":"APBa","x":915,"i":196}
],
"callout": [
{"id":1,"o":1,"x":1012.7,"i":94},{"id":1,"o":2,"x":1021.2,"i":149},{"id":1,"o":3,"x":1042.2,"i":158},
{"id":2,"o":1,"x":1023.2,"i":106},{"id":2,"o":2,"x":1022.4,"i":146}
],
"dash": [
{"id":"box","o":1,"x":1000,"i":603},{"id":"box","o":2,"x":1443,"i":603},{"id":"box","o":3,"x":1443,"i":22},{"id":"box","o":4,"x":1000,"i":22},{"id":"box","o":5,"x":1000,"i":603},
{"id":"up","o":1,"x":881.5,"i":723},{"id":"up","o":2,"x":1000,"i":603},
{"id":"down","o":1,"x":881.5,"i":63},{"id":"down","o":2,"x":1000,"i":22}
],
"frame": [
{"o":1,"x":3682,"i":723},{"o":2,"x":2700,"i":723},{"o":3,"x":2700,"i":0}
],
"minor": [
{"x":2900,"i0":0,"i1":3},{"x":3100,"i0":0,"i1":3},{"x":3300,"i0":0,"i1":3},{"x":3500,"i0":0,"i1":3}
]
},
"hconcat": [
{
 "width": 355, "height": 723,
 "layer": [
  {"data": {"name": "left"}, "mark": {"type": "line", "strokeWidth": 1},
   "encoding": {
    "x": {"field": "x", "type": "quantitative", "scale": {"domain": [1000, 1450], "nice": false, "zero": false},
          "axis": {"values": [1000,1050,1100,1150,1200,1250,1300,1350,1400], "format": "d", "labelExpr": "datum.value % 100 === 0 ? datum.label : ''", "title": "Raman Shift (cm⁻¹)"}},
    "y": {"field": "i", "type": "quantitative", "scale": {"domain": [0, 723], "nice": false, "zero": false}, "axis": null},
    "stroke": {"field": "s", "type": "nominal", "scale": {"domain": ["PDA","PDA-APBa","APBa"], "range": ["#111111","#ff3b3b","#1f8f1f"]}, "legend": null}
   }},
  {"data": {"name": "callout"}, "mark": {"type": "line", "strokeWidth": 1.2, "color": "#a8da8e"},
   "encoding": {
    "x": {"field": "x", "type": "quantitative", "scale": {"domain": [1000, 1450], "nice": false, "zero": false}},
    "y": {"field": "i", "type": "quantitative", "scale": {"domain": [0, 723], "nice": false, "zero": false}, "axis": null},
    "detail": {"field": "id", "type": "nominal"},
    "order": {"field": "o", "type": "quantitative"}
   }},
  {"data": {"name": "ann"}, "transform": [{"filter": "datum.p === 'L' && datum.k === 'm'"}],
   "mark": {"type": "text", "angle": 270, "align": "left", "baseline": "alphabetic", "fontSize": 18},
   "encoding": {
    "x": {"field": "x", "type": "quantitative", "scale": {"domain": [1000, 1450], "nice": false, "zero": false}},
    "y": {"field": "y", "type": "quantitative", "scale": {"domain": [0, 723], "nice": false, "zero": false}, "axis": null},
    "text": {"field": "t"},
    "fill": {"field": "g", "type": "nominal", "scale": {"domain": ["ann","annG","PDA","PDA-APBa","APBa","star"], "range": ["#333333","#5e6b52","#333333","#f0505c","#3cb95a","#e8302f"]}, "legend": null}
   }},
  {"data": {"name": "ann"}, "transform": [{"filter": "datum.p === 'L' && datum.k === 's'"}],
   "mark": {"type": "text", "angle": 270, "align": "left", "baseline": "alphabetic", "fontSize": 13, "dy": 4},
   "encoding": {
    "x": {"field": "x", "type": "quantitative", "scale": {"domain": [1000, 1450], "nice": false, "zero": false}},
    "y": {"field": "y", "type": "quantitative", "scale": {"domain": [0, 723], "nice": false, "zero": false}, "axis": null},
    "text": {"field": "t"},
    "fill": {"field": "g", "type": "nominal", "scale": {"domain": ["ann","annG","PDA","PDA-APBa","APBa","star"], "range": ["#333333","#5e6b52","#333333","#f0505c","#3cb95a","#e8302f"]}, "legend": null}
   }},
  {"data": {"name": "stars"}, "mark": {"type": "text", "align": "center", "baseline": "middle", "fontSize": 20, "dy": 5, "color": "#e8302f"},
   "encoding": {
    "x": {"field": "x", "type": "quantitative", "scale": {"domain": [1000, 1450], "nice": false, "zero": false}},
    "y": {"field": "i", "type": "quantitative", "scale": {"domain": [0, 723], "nice": false, "zero": false}, "axis": null},
    "text": {"value": "*"}
   }},
  {"data": {"name": "names"}, "mark": {"type": "text", "align": "left", "baseline": "middle", "fontSize": 20, "fontStyle": "italic"},
   "encoding": {
    "x": {"field": "x", "type": "quantitative", "scale": {"domain": [1000, 1450], "nice": false, "zero": false}},
    "y": {"field": "i", "type": "quantitative", "scale": {"domain": [0, 723], "nice": false, "zero": false}, "axis": null},
    "text": {"field": "t"},
    "fill": {"field": "g", "type": "nominal", "scale": {"domain": ["ann","annG","PDA","PDA-APBa","APBa","star"], "range": ["#333333","#5e6b52","#333333","#f0505c","#3cb95a","#e8302f"]}, "legend": null}
   }}
 ]
},
{
 "hconcat": [
 {
  "width": 354, "height": 723,
  "layer": [
   {"data": {"name": "mid"}, "mark": {"type": "line", "strokeWidth": 1.7},
    "encoding": {
     "x": {"field": "x", "type": "quantitative", "scale": {"domain": [1000, 2000], "nice": false, "zero": false},
           "axis": {"values": [1000,1100,1200,1300,1400,1500,1600,1700,1800,1900,2000], "format": "d", "labelExpr": "datum.value % 200 === 0 ? datum.label : ''", "title": "Raman Shift (cm⁻¹)"}},
     "y": {"field": "i", "type": "quantitative", "scale": {"domain": [0, 723], "nice": false, "zero": false}, "axis": null},
     "stroke": {"field": "s", "type": "nominal", "scale": {"domain": ["PDA","PDA-APBa","APBa"], "range": ["#111111","#ff3b3b","#1f8f1f"]}, "legend": null}
    }},
   {"data": {"name": "dash"}, "mark": {"type": "line", "strokeWidth": 1.5, "strokeDash": [6, 4], "color": "#f5c242"},
    "encoding": {
     "x": {"field": "x", "type": "quantitative", "scale": {"domain": [1000, 2000], "nice": false, "zero": false}},
     "y": {"field": "i", "type": "quantitative", "scale": {"domain": [0, 723], "nice": false, "zero": false}, "axis": null},
     "detail": {"field": "id", "type": "nominal"},
     "order": {"field": "o", "type": "quantitative"}
    }},
   {"data": {"name": "ann"}, "transform": [{"filter": "datum.p === 'M' && datum.k === 'm'"}],
    "mark": {"type": "text", "angle": 270, "align": "left", "baseline": "alphabetic", "fontSize": 18},
    "encoding": {
     "x": {"field": "x", "type": "quantitative", "scale": {"domain": [1000, 2000], "nice": false, "zero": false}},
     "y": {"field": "y", "type": "quantitative", "scale": {"domain": [0, 723], "nice": false, "zero": false}, "axis": null},
     "text": {"field": "t"},
     "fill": {"field": "g", "type": "nominal", "scale": {"domain": ["ann","annG","PDA","PDA-APBa","APBa","star"], "range": ["#333333","#5e6b52","#333333","#f0505c","#3cb95a","#e8302f"]}, "legend": null}
    }},
   {"data": {"name": "ann"}, "transform": [{"filter": "datum.p === 'M' && datum.k === 's'"}],
    "mark": {"type": "text", "angle": 270, "align": "left", "baseline": "alphabetic", "fontSize": 13, "dy": 4},
    "encoding": {
     "x": {"field": "x", "type": "quantitative", "scale": {"domain": [1000, 2000], "nice": false, "zero": false}},
     "y": {"field": "y", "type": "quantitative", "scale": {"domain": [0, 723], "nice": false, "zero": false}, "axis": null},
     "text": {"field": "t"},
     "fill": {"field": "g", "type": "nominal", "scale": {"domain": ["ann","annG","PDA","PDA-APBa","APBa","star"], "range": ["#333333","#5e6b52","#333333","#f0505c","#3cb95a","#e8302f"]}, "legend": null}
    }}
  ]
 },
 {
  "width": 346, "height": 723,
  "view": {"stroke": null},
  "layer": [
   {"data": {"name": "right"}, "mark": {"type": "line", "strokeWidth": 1.7},
    "encoding": {
     "x": {"field": "x", "type": "quantitative", "scale": {"domain": [2700, 3682], "nice": false, "zero": false},
           "axis": {"values": [2800,3000,3200,3400,3600], "format": "d", "labels": true, "tickSize": -5, "title": "Raman Shift (cm-1)"}},
     "y": {"field": "i", "type": "quantitative", "scale": {"domain": [0, 723], "nice": false, "zero": false}, "axis": null},
     "stroke": {"field": "s", "type": "nominal", "scale": {"domain": ["PDA","PDA-APBa","APBa"], "range": ["#111111","#ff3b3b","#1f8f1f"]}, "legend": null}
    }},
   {"data": {"name": "frame"}, "mark": {"type": "line", "strokeWidth": 2, "color": "#1a1a1a"},
    "encoding": {
     "x": {"field": "x", "type": "quantitative", "scale": {"domain": [2700, 3682], "nice": false, "zero": false}},
     "y": {"field": "i", "type": "quantitative", "scale": {"domain": [0, 723], "nice": false, "zero": false}, "axis": null},
     "order": {"field": "o", "type": "quantitative"}
    }},
   {"data": {"name": "minor"}, "mark": {"type": "rule", "strokeWidth": 1, "color": "#333333"},
    "encoding": {
     "x": {"field": "x", "type": "quantitative", "scale": {"domain": [2700, 3682], "nice": false, "zero": false}},
     "y": {"field": "i0", "type": "quantitative", "scale": {"domain": [0, 723], "nice": false, "zero": false}, "axis": null},
     "y2": {"field": "i1"}
    }},
   {"data": {"name": "ann"}, "transform": [{"filter": "datum.p === 'R' && datum.k === 'm'"}],
    "mark": {"type": "text", "angle": 270, "align": "left", "baseline": "alphabetic", "fontSize": 18},
    "encoding": {
     "x": {"field": "x", "type": "quantitative", "scale": {"domain": [2700, 3682], "nice": false, "zero": false}},
     "y": {"field": "y", "type": "quantitative", "scale": {"domain": [0, 723], "nice": false, "zero": false}, "axis": null},
     "text": {"field": "t"},
     "fill": {"field": "g", "type": "nominal", "scale": {"domain": ["ann","annG","PDA","PDA-APBa","APBa","star"], "range": ["#333333","#5e6b52","#333333","#f0505c","#3cb95a","#e8302f"]}, "legend": null}
    }},
   {"data": {"name": "ann"}, "transform": [{"filter": "datum.p === 'R' && datum.k === 's'"}],
    "mark": {"type": "text", "angle": 270, "align": "left", "baseline": "alphabetic", "fontSize": 13, "dy": 4},
    "encoding": {
     "x": {"field": "x", "type": "quantitative", "scale": {"domain": [2700, 3682], "nice": false, "zero": false}},
     "y": {"field": "y", "type": "quantitative", "scale": {"domain": [0, 723], "nice": false, "zero": false}, "axis": null},
     "text": {"field": "t"},
     "fill": {"field": "g", "type": "nominal", "scale": {"domain": ["ann","annG","PDA","PDA-APBa","APBa","star"], "range": ["#333333","#5e6b52","#333333","#f0505c","#3cb95a","#e8302f"]}, "legend": null}
    }}
  ]
 }
 ],
 "spacing": 31,
 "bounds": "flush"
}
]
}
